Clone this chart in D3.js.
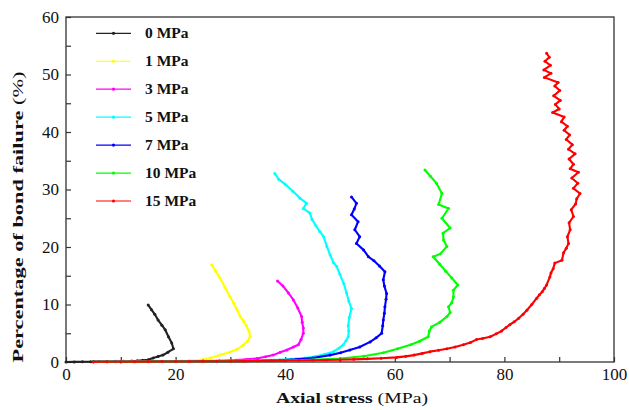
<!DOCTYPE html>
<html>
<head>
<meta charset="utf-8">
<script src="https://cdn.jsdelivr.net/npm/d3@7/dist/d3.min.js"></script>
<style>
  body { margin: 0; background: #fff; }
  svg { display: block; }
  text { font-family: "Liberation Serif", "Times New Roman", serif; fill: #111; }
</style>
</head>
<body>
<svg id="chart" width="629" height="410"></svg>
<script>
// Confining pressure levels and their curves: [axial stress (MPa), bond failure (%)]
const pressureLabels = ["0 MPa", "1 MPa", "3 MPa", "5 MPa", "7 MPa", "10 MPa", "15 MPa"];
const palette = ["#222222", "#ffff00", "#ff00ff", "#00ffff", "#0000ff", "#00ff00", "#ff0000"];

const curve0MPa = [
  [0,0],[1.5,0.02],[3,0.04],[4.5,0.05],[6,0.07],[7.5,0.09],[9,0.11],[10.5,0.13],[12,0.17],[13,0.22],
  [14,0.3],[15,0.4],[15.9,0.7],[16.8,0.95],[17.7,1.2],[18.6,1.7],[19.6,2.3],[19.3,3.3],[18.7,4.4],
  [18.1,5.6],[17.5,6.4],[16.8,7.3],[16.2,8.3],[15.6,9.1],[15.0,9.9]
];
const curve1MPa = [
  [5,0.03],[8,0.05],[11,0.07],[14,0.09],[17,0.12],[20,0.16],[22.5,0.24],[24.5,0.35],[26.3,0.7],
  [28.1,1.2],[29.8,1.7],[31.2,2.2],[32.3,2.9],[33.1,3.6],[33.6,4.4],[33.4,5.3],[32.9,6.3],
  [32.4,7.1],[31.8,7.9],[31.2,9.1],[30.6,10.2],[29.9,11.4],[29.0,13.0],[28.1,14.6],[27.3,15.8],[26.6,16.9]
];
const curve3MPa = [
  [5,0.03],[9,0.05],[13,0.07],[17,0.09],[21,0.12],[25,0.17],[28,0.23],[31,0.32],[33,0.45],
  [34.8,0.6],[36.4,0.9],[37.8,1.2],[39.1,1.7],[40.3,2.1],[41.5,2.6],[42.4,3.0],[42.9,3.9],
  [43.3,5.0],[43.3,5.9],[43.1,6.9],[43.0,7.9],[42.3,9.4],[41.5,10.8],[40.6,12.0],[39.6,13.2],[38.6,14.1]
];
const curve5MPa = [
  [5,0.03],[10,0.05],[15,0.07],[20,0.09],[25,0.12],[30,0.17],[34,0.24],[38,0.35],[41,0.5],[43.5,0.7],
  [45.5,0.95],[47.2,1.35],[48.8,1.8],[49.8,2.4],[50.6,3.0],[51.1,3.7],[51.5,4.4],[51.6,5.4],
  [51.5,6.3],[51.7,7.8],[52.1,9.3],[51.6,10.6],[51.2,12.0],[50.7,13.6],[50.0,15.2],[49.4,16.6],
  [48.8,17.3],[48.2,18.6],[47.6,20.1],[47.0,21.8],[46.3,22.7],[45.6,23.7],[44.9,24.8],[44.5,25.9],
  [43.3,26.7],[43.9,27.6],[42.7,28.5],[41.4,29.7],[40.0,30.9],[38.8,31.8],[38.1,32.8]
];
const curve7MPa = [
  [5,0.03],[10,0.05],[15,0.07],[20,0.09],[25,0.11],[30,0.14],[35,0.2],[39,0.3],[42,0.45],[45,0.7],
  [48.2,1.2],[50.1,1.6],[51.8,2.1],[53.6,2.6],[55.5,3.5],[56.6,4.2],[57.6,5.0],[57.8,6.3],
  [57.9,7.3],[58.1,8.5],[58.2,9.6],[58.4,10.9],[58.5,11.9],[58.1,13.2],[57.9,14.3],[58.2,15.7],
  [57.2,16.7],[56.2,17.6],[55.2,18.3],[54.3,19.5],[53.0,20.6],[53.6,21.8],[52.7,23.0],
  [53.3,24.4],[52.1,25.6],[52.6,26.6],[53.0,27.6],[52.1,28.7]
];
const curve10MPa = [
  [5,0.03],[10,0.04],[15,0.06],[20,0.08],[25,0.1],[30,0.13],[35,0.17],[40,0.24],[45,0.4],[50,0.62],
  [54.3,1.0],[57.9,1.6],[60.5,2.3],[62.9,3.0],[64.5,3.6],[66.1,4.4],[66.3,5.4],[66.7,6.1],
  [68.2,6.9],[69.5,7.9],[70.1,8.6],[69.8,9.6],[70.4,10.3],[70.7,11.3],[70.7,12.5],[71.5,13.4],
  [70.4,14.6],[69.3,15.8],[68.2,17.0],[67.0,18.3],[68.3,18.8],[69.5,20.1],[68.9,21.2],[68.8,22.4],
  [70.1,23.3],[68.6,25.0],[69.8,26.7],[68.0,27.4],[68.6,29.3],[67.6,31.1],[66.5,32.3],[65.5,33.4]
];
const curve15MPa = [
  [5,0.03],[7.5,0.04],[10,0.05],[12.5,0.06],[15,0.07],[17.5,0.08],[20,0.09],[22.5,0.1],[25,0.11],
  [27.5,0.12],[30,0.14],[32.5,0.16],[35,0.18],[37.5,0.2],[40,0.23],[42.5,0.26],[45,0.3],
  [47.5,0.34],[50,0.4],[52.5,0.46],[55,0.55],[57.5,0.66],[60.3,0.8],[62,0.98],[63.5,1.2],
  [65,1.5],[66.4,1.8],[68,2.05],[69.5,2.3],[71,2.6],[72.5,3.0],[73.8,3.4],[74.9,3.9],[76,4.1],
  [77.4,4.4],[78.5,4.9],[79.5,5.4],[80.3,6.0],[81.0,6.5],[81.8,7.0],[82.6,7.6],[83.4,8.3],
  [84.1,9.0],[85.0,10.0],[85.9,11.1],[86.4,11.7],[86.9,12.2],[87.3,12.8],[87.7,13.4],[88.3,14.8],
  [88.5,15.5],[88.9,16.2],[89.2,17.2],[90.5,17.7],[90.8,19.0],[91.3,19.8],[91.7,20.6],[91.5,21.8],
  [92.0,23.0],[91.8,24.2],[92.6,25.3],[92.2,26.5],[93.0,27.5],[93.2,28.4],[93.8,29.3],[92.6,30.2],
  [93.4,31.1],[92.3,32.0],[93.5,33.0],[92.0,33.6],[92.6,34.4],[91.8,35.3],[92.9,36.2],[91.7,37.0],
  [92.4,37.8],[91.3,38.7],[91.9,39.5],[90.9,40.3],[91.5,41.0],[90.4,41.8],[90.9,42.6],[88.8,43.4],
  [90.0,44.0],[89.3,44.8],[90.2,45.5],[89.0,46.3],[90.1,47.2],[89.2,48.0],[89.8,48.6],[87.3,49.5],
  [88.5,50.2],[87.2,50.8],[88.4,51.6],[87.4,52.3],[88.2,53.0],[87.7,53.7]
];
const curves = [curve0MPa, curve1MPa, curve3MPa, curve5MPa, curve7MPa, curve10MPa, curve15MPa];

const xTicks = [0, 10, 20, 30, 40, 50, 60, 70, 80, 90, 100];
const yTicks = [0, 5, 10, 15, 20, 25, 30, 35, 40, 45, 50, 55, 60];

const svg = d3.select("#chart");
const plot = { left: 66, right: 614, top: 17, bottom: 362 };

const x = d3.scaleLinear().domain([0, 100]).range([plot.left, plot.right]);
const y = d3.scaleLinear().domain([0, 60]).range([plot.bottom, plot.top]);

// axes with inward ticks; labels on every second tick
const xAxis = d3.axisBottom(x).tickValues(xTicks).tickSize(-5).tickPadding(6)
  .tickFormat(d => d % 20 === 0 ? d : "");
const yAxis = d3.axisLeft(y).tickValues(yTicks).tickSize(-5).tickPadding(7)
  .tickFormat(d => d % 10 === 0 ? d : "");

const gx = svg.append("g").attr("transform", `translate(0,${plot.bottom})`).call(xAxis);
const gy = svg.append("g").attr("transform", `translate(${plot.left},0)`).call(yAxis);
[gx, gy].forEach(g => {
  g.select(".domain").remove();
  g.selectAll(".tick line").attr("stroke", "#333").attr("stroke-width", 1.2);
  g.selectAll(".tick text").attr("font-size", 17).attr("fill", "#111")
    .attr("font-family", "Liberation Serif, serif");
});

// frame
svg.append("rect")
  .attr("x", plot.left).attr("y", plot.top)
  .attr("width", plot.right - plot.left).attr("height", plot.bottom - plot.top)
  .attr("fill", "none").attr("stroke", "#333").attr("stroke-width", 1.3);

// curves with point markers
const line = d3.line().x(d => x(d[0])).y(d => y(d[1]));
const curveLayer = svg.append("g");
curves.forEach((pts, i) => {
  const g = curveLayer.append("g");
  g.append("path").attr("d", line(pts)).attr("fill", "none")
    .attr("stroke", palette[i]).attr("stroke-width", 2.1).attr("stroke-linejoin", "round");
  g.selectAll("circle").data(pts).join("circle")
    .attr("cx", d => x(d[0])).attr("cy", d => y(d[1])).attr("r", 1.5)
    .attr("fill", palette[i]);
});

// legend
const legend = svg.append("g");
pressureLabels.forEach((label, i) => {
  const cy = 33.3 + i * 27.95;
  legend.append("line").attr("x1", 96).attr("x2", 131).attr("y1", cy).attr("y2", cy)
    .attr("stroke", palette[i]).attr("stroke-width", 1.2);
  legend.append("circle").attr("cx", 113.5).attr("cy", cy).attr("r", 1.6).attr("fill", palette[i]);
  legend.append("text").attr("x", 145).attr("y", cy + 5)
    .attr("font-size", 15.5).attr("font-weight", "bold").text(label);
});

// axis titles
const xt = svg.append("text").attr("x", 352).attr("y", 403).attr("text-anchor", "middle")
  .attr("font-size", 15).attr("textLength", 152).attr("lengthAdjust", "spacingAndGlyphs");
xt.append("tspan").attr("font-weight", "bold").text("Axial stress ");
xt.append("tspan").text("(MPa)");

const yt = svg.append("text").attr("transform", "translate(23,217) rotate(-90)")
  .attr("text-anchor", "middle").attr("font-size", 15)
  .attr("textLength", 291).attr("lengthAdjust", "spacingAndGlyphs");
yt.append("tspan").attr("font-weight", "bold").text("Percentage of bond failure ");
yt.append("tspan").text("(%)");
</script>
</body>
</html>
